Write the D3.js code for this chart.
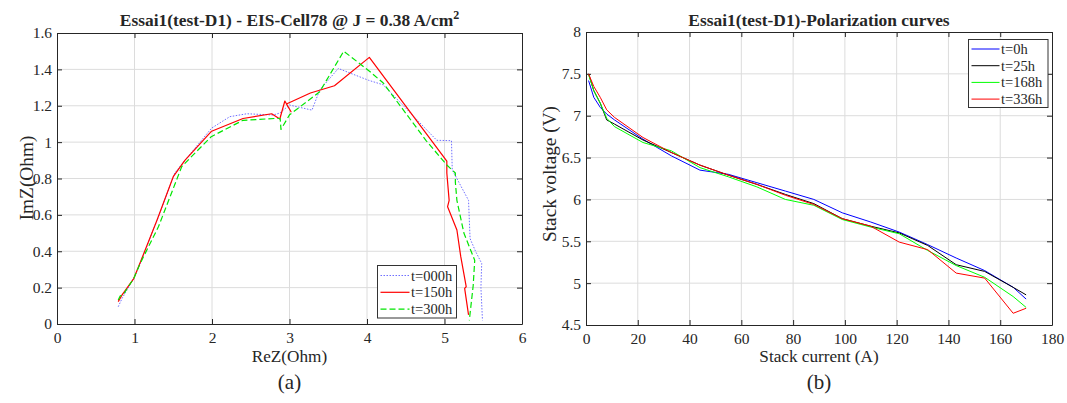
<!DOCTYPE html>
<html><head><meta charset="utf-8">
<script src="https://cdn.jsdelivr.net/npm/d3@7"></script>
<style>body{margin:0;background:#fff}svg text{font-family:"Liberation Serif","Times New Roman",serif;fill:#262626}</style>
</head><body><svg id="c" width="1067" height="403" font-family="Liberation Serif"></svg>
<script>
// ---------- Data: (a) EIS Nyquist ----------
const eisLabels = ["t=000h", "t=150h", "t=300h"];
const reZ000 = [0.79,0.84,0.99,1.07,1.29,1.52,1.65,1.995,2.23,2.45,2.79,2.875,3.0,3.29,3.39,3.63,4.02,4.21,4.9,5.09,5.10,5.31,5.33,5.40,5.48,5.47,5.49];
const imZ000 = [0.095,0.141,0.25,0.33,0.57,0.83,0.90,1.077,1.14,1.156,1.149,1.16,1.204,1.176,1.287,1.405,1.34,1.315,1.01,1.008,0.847,0.68,0.47,0.40,0.333,0.20,0.02];
const reZ150 = [0.79,0.84,0.99,1.07,1.29,1.50,1.65,1.995,2.40,2.77,2.875,2.94,3.02,2.96,3.27,3.58,4.03,5.03,5.03,5.06,5.04,5.16,5.21,5.28,5.26,5.31];
const imZ150 = [0.123,0.16,0.25,0.334,0.57,0.81,0.90,1.06,1.13,1.156,1.127,1.226,1.167,1.21,1.27,1.31,1.466,0.896,0.83,0.68,0.645,0.517,0.37,0.205,0.196,0.05];
const reZ300 = [0.79,0.815,0.86,0.99,1.07,1.31,1.61,1.99,2.40,2.81,2.88,2.89,3.0,3.39,3.70,4.04,4.21,4.76,5.03,5.14,5.14,5.16,5.25,5.39,5.37,5.32];
const imZ300 = [0.132,0.154,0.165,0.25,0.33,0.536,0.866,1.03,1.12,1.13,1.13,1.07,1.15,1.277,1.50,1.387,1.325,1.01,0.874,0.83,0.78,0.68,0.50,0.35,0.21,0.02];
const eisXTicks = [0,1,2,3,4,5,6];
const eisYTicks = [0,0.2,0.4,0.6,0.8,1,1.2,1.4,1.6];

// ---------- Data: (b) Polarization curves ----------
const polLabels = ["t=0h", "t=25h", "t=168h", "t=336h"];
const current = [1,3,5.5,8,11,22,33,44,55,66,77,88,99,110,121,132,143,154,165,170];
const volt0   = [7.42,7.22,7.10,7.02,6.95,6.72,6.52,6.35,6.30,6.20,6.10,6.00,5.84,5.73,5.61,5.46,5.30,5.15,4.95,4.81];
const volt25  = [7.50,7.30,7.15,6.95,6.90,6.71,6.56,6.41,6.29,6.18,6.06,5.95,5.77,5.68,5.60,5.45,5.22,5.14,4.95,4.86];
const volt168 = [7.49,7.30,7.15,6.97,6.87,6.68,6.58,6.38,6.27,6.15,6.00,5.93,5.76,5.67,5.59,5.39,5.21,5.07,4.84,4.71];
const volt336 = [7.50,7.35,7.22,7.07,6.98,6.74,6.56,6.41,6.29,6.18,6.05,5.94,5.77,5.68,5.49,5.40,5.12,5.06,4.64,4.70];
const polXTicks = [0,20,40,60,80,100,120,140,160,180];
const polYTicks = [4.5,5,5.5,6,6.5,7,7.5,8];

const FONT = '"Liberation Serif","Times New Roman",serif';
const svg = d3.select("#c");
const fmt = d3.format("~g");

function panel(o) {
  const x = d3.scaleLinear().domain(o.xd).range([o.l, o.r]);
  const y = d3.scaleLinear().domain(o.yd).range([o.b, o.t]);
  const g = svg.append("g");
  // grid
  g.append("g").selectAll("line").data(o.xt.slice(1, -1)).join("line")
    .attr("x1", d => x(d)).attr("x2", d => x(d)).attr("y1", o.t).attr("y2", o.b)
    .attr("stroke", "#dcdcdc").attr("stroke-width", 1);
  g.append("g").selectAll("line").data(o.yt.slice(1, -1)).join("line")
    .attr("y1", d => y(d)).attr("y2", d => y(d)).attr("x1", o.l).attr("x2", o.r)
    .attr("stroke", "#dcdcdc").attr("stroke-width", 1);
  // axes (inward ticks on all sides)
  const ax = [
    [d3.axisBottom(x).tickValues(o.xt).tickFormat(fmt).tickSizeInner(-5).tickSizeOuter(0).tickPadding(8), `translate(0,${o.b})`, true],
    [d3.axisTop(x).tickValues(o.xt).tickSizeInner(-5).tickSizeOuter(0), `translate(0,${o.t})`, false],
    [d3.axisLeft(y).tickValues(o.yt).tickFormat(fmt).tickSizeInner(-5).tickSizeOuter(0).tickPadding(5), `translate(${o.l},0)`, true],
    [d3.axisRight(y).tickValues(o.yt).tickSizeInner(-5).tickSizeOuter(0), `translate(${o.r},0)`, false]
  ];
  ax.forEach(([a, tr, lab]) => {
    const s = g.append("g").attr("transform", tr).call(a).attr("font-family", FONT).attr("font-size", 15.5);
    s.select(".domain").attr("stroke", "#262626");
    s.selectAll(".tick line").attr("stroke", "#262626");
    s.selectAll("text").attr("font-size", 15.5).attr("fill", "#262626").attr("font-family", FONT);
    if (!lab) s.selectAll("text").remove();
  });
  // lines
  const line = d3.line().x(d => x(d[0])).y(d => y(d[1]));
  o.series.forEach(s => {
    g.append("path").datum(d3.zip(s.xs, s.ys)).attr("d", line)
      .attr("fill", "none").attr("stroke", s.c).attr("stroke-width", s.w)
      .attr("stroke-dasharray", s.dash || null).attr("stroke-linejoin", "round");
  });
  // legend
  const L = o.leg;
  g.append("rect").attr("x", L.x).attr("y", L.y).attr("width", L.w).attr("height", L.h)
    .attr("fill", "#fff").attr("stroke", "#333").attr("stroke-width", 1);
  o.series.forEach((s, i) => {
    const yy = L.y0 + i * L.dy;
    g.append("line").attr("x1", L.lx1).attr("x2", L.lx2).attr("y1", yy).attr("y2", yy)
      .attr("stroke", s.c).attr("stroke-width", s.w).attr("stroke-dasharray", s.dash || null);
    g.append("text").attr("x", L.lx2 + 1.5).attr("y", yy + 5).attr("font-size", 14.5)
      .attr("font-family", FONT).text(s.name);
  });
  // labels
  g.append("text").attr("x", (o.l + o.r) / 2).attr("y", 362).attr("text-anchor", "middle")
    .attr("font-family", FONT).attr("font-size", 17.2).text(o.xl);
  g.append("text").attr("transform", `translate(${o.ylx},${o.yly}) rotate(-90)`)
    .attr("text-anchor", "middle").attr("font-family", FONT).attr("font-size", 19.3).text(o.yl);
  g.append("text").attr("x", (o.l + o.r) / 2).attr("y", 389).attr("text-anchor", "middle")
    .attr("font-family", FONT).attr("font-size", 21).text(o.sub);
  const t = g.append("text").attr("x", (o.l + o.r) / 2).attr("y", 26).attr("text-anchor", "middle")
    .attr("font-family", FONT).attr("font-size", 17.4).attr("font-weight", "bold");
  t.append("tspan").text(o.title);
  if (o.sup) t.append("tspan").attr("dy", -7).attr("font-size", 12).text(o.sup);
}

panel({
  l: 57, r: 522, t: 33, b: 324, xd: [0, 6], yd: [0, 1.6], xt: eisXTicks, yt: eisYTicks,
  series: [
    {name: eisLabels[0], xs: reZ000, ys: imZ000, c: "#6f6fff", w: 1, dash: "1.5,1.5"},
    {name: eisLabels[1], xs: reZ150, ys: imZ150, c: "#ff0000", w: 1.2},
    {name: eisLabels[2], xs: reZ300, ys: imZ300, c: "#00e600", w: 1.2, dash: "6,3"}
  ],
  leg: {x: 377.5, y: 265.5, w: 79, h: 52.5, lx1: 380.5, lx2: 409.5, y0: 275.5, dy: 16.8},
  xl: "ReZ(Ohm)", yl: "ImZ(Ohm)", ylx: 33, yly: 178, sub: "(a)",
  title: "Essai1(test-D1) - EIS-Cell78 @ J = 0.38 A/cm", sup: "2"
});

panel({
  l: 586, r: 1052, t: 32, b: 325, xd: [0, 180], yd: [4.5, 8], xt: polXTicks, yt: polYTicks,
  series: [
    {name: polLabels[0], xs: current, ys: volt0, c: "#0000ff", w: 1},
    {name: polLabels[1], xs: current, ys: volt25, c: "#000000", w: 1},
    {name: polLabels[2], xs: current, ys: volt168, c: "#00ff00", w: 1},
    {name: polLabels[3], xs: current, ys: volt336, c: "#ff0000", w: 1}
  ],
  leg: {x: 968.5, y: 39.5, w: 79.5, h: 68, lx1: 971.5, lx2: 999.5, y0: 49, dy: 16.7},
  xl: "Stack current (A)", yl: "Stack voltage (V)", ylx: 556, yly: 174, sub: "(b)",
  title: "Essai1(test-D1)-Polarization curves"
});
</script></body></html>
